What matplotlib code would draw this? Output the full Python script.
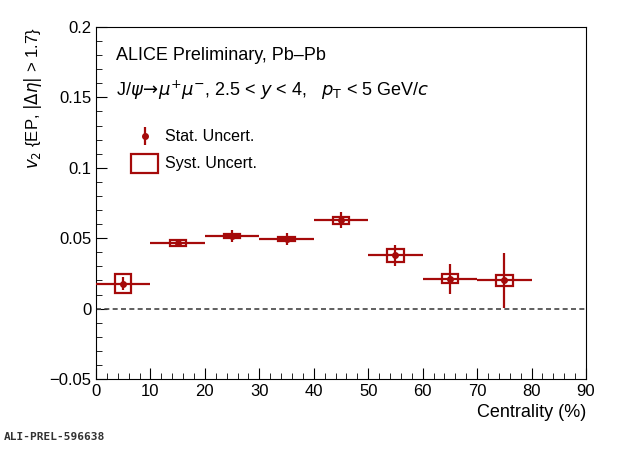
import matplotlib
matplotlib.use("Agg")
import matplotlib.pyplot as plt
from matplotlib.patches import Rectangle

cent_lo = [0, 10, 20, 30, 40, 50, 60, 70]
cent_hi = [10, 20, 30, 40, 50, 60, 70, 80]
v2 = [0.0176, 0.0465, 0.0515, 0.0495, 0.0628, 0.0378, 0.0212, 0.0200]
stat = [0.0045, 0.0030, 0.0040, 0.0045, 0.0055, 0.0072, 0.0105, 0.0195]
syst = [0.0068, 0.0020, 0.0014, 0.0015, 0.0024, 0.0048, 0.0032, 0.0042]

plt.rcParams['font.family'] = ['Liberation Sans', 'DejaVu Sans']
col = '#a50a0a'
fig = plt.figure(figsize=(6.2, 4.49), dpi=100)
ax = fig.add_axes([96/620, 1-379/449, 490/620, 352/449])
ax.set_xlim(0, 90)
ax.set_ylim(-0.05, 0.2)
ax.axhline(0, color='#444444', ls=(0, (3, 2)), lw=1.2)
for lo, hi, y, s, sy in zip(cent_lo, cent_hi, v2, stat, syst):
    xc = (lo + hi) / 2
    ax.add_patch(Rectangle((xc - 1.5, y - sy), 3, 2 * sy, fill=False, ec=col, lw=1.6, zorder=3))
    ax.errorbar(xc, y, xerr=(hi - lo) / 2, yerr=s, fmt='o', color=col, ms=4, lw=1.6, capsize=0, zorder=4)
ax.set_xticks(range(0, 91, 10))
ax.set_yticks([-0.05, 0, 0.05, 0.1, 0.15, 0.2])
ax.set_yticklabels(['\u22120.05', '0', '0.05', '0.1', '0.15', '0.2'])
ax.set_xticks(range(0, 91, 2), minor=True)
ax.set_yticks([i * 0.01 for i in range(-5, 21)], minor=True)
ax.tick_params(which='both', direction='in', top=False, right=False, labelsize=12)
ax.tick_params(which='major', length=8)
ax.tick_params(which='minor', length=4)
ax.set_xlabel('Centrality (%)', fontsize=13, loc='right')
ax.set_ylabel(r'$v_2$ {EP, $|\Delta\eta|$ > 1.7}', fontsize=12, loc='top')
ax.text(0.04, 0.92, 'ALICE Preliminary, Pb\u2013Pb', transform=ax.transAxes, fontsize=13, va='center')
ax.text(0.04, 0.82, r'J/$\psi\!\rightarrow\!\mu^{+}\mu^{-}$, 2.5 < $y$ < 4,   $p_{\mathrm{T}}$ < 5 GeV/$c$',
        transform=ax.transAxes, fontsize=13, va='center')
ax.errorbar([0.10], [0.69], yerr=[0.025], fmt='o', color=col, ms=4, lw=1.6, transform=ax.transAxes)
ax.text(0.14, 0.69, 'Stat. Uncert.', transform=ax.transAxes, fontsize=11.5, va='center')
ax.add_patch(Rectangle((0.072, 0.585), 0.055, 0.055, transform=ax.transAxes, fill=False, ec=col, lw=1.6))
ax.text(0.14, 0.612, 'Syst. Uncert.', transform=ax.transAxes, fontsize=11.5, va='center')
fig.text(4/620, 1-440/449, 'ALI-PREL-596638', fontsize=8, family='DejaVu Sans Mono', weight='bold', color='#333333')
fig.savefig('out.png', dpi=100)
